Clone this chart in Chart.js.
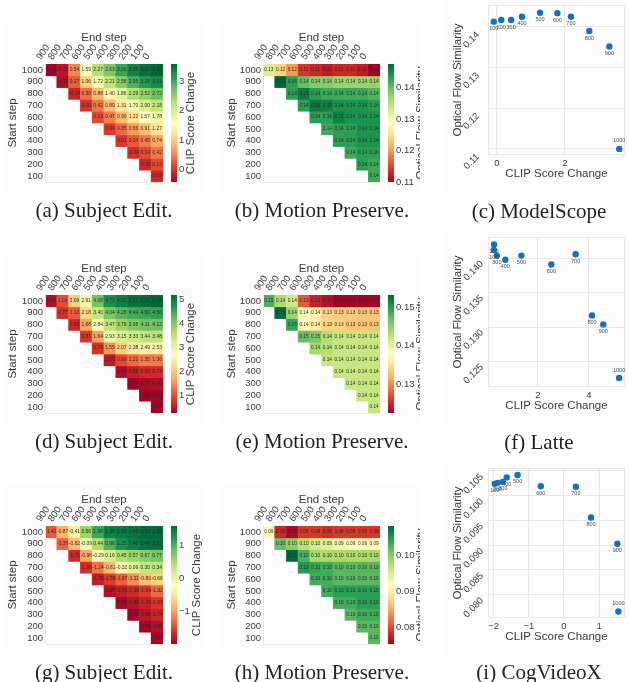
<!DOCTYPE html>
<html lang="en">
<head>
  <meta charset="UTF-8">
  <title>Subject Edit and Motion Preserve heatmaps</title>
  <script src="https://cdn.jsdelivr.net/npm/chart.js"></script>
  <style>
    html, body { margin: 0; background: #fff; }
    body { position: relative; width: 629px; height: 682px; overflow: hidden; }
    canvas { position: absolute; background: #fdfdfe; filter: blur(0.4px); }
    .cap {
      position: absolute;
      font-family: "Liberation Serif", serif;
      font-size: 21px;
      color: #222;
      white-space: nowrap;
      transform: translate(-50%, -50%);
      filter: blur(0.3px);
    }
  </style>
</head>
<body>
  <div class="cap" style="left:104px;top:210px">(a) Subject Edit.</div>
  <div class="cap" style="left:322px;top:210px">(b) Motion Preserve.</div>
  <div class="cap" style="left:539px;top:211px">(c) ModelScope</div>
  <div class="cap" style="left:104px;top:441px">(d) Subject Edit.</div>
  <div class="cap" style="left:322px;top:441px">(e) Motion Preserve.</div>
  <div class="cap" style="left:539px;top:442px">(f) Latte</div>
  <div class="cap" style="left:104px;top:672px">(g) Subject Edit.</div>
  <div class="cap" style="left:322px;top:672px">(h) Motion Preserve.</div>
  <div class="cap" style="left:539px;top:672px">(i) CogVideoX</div>

  <script>
    const endSteps = [900, 800, 700, 600, 500, 400, 300, 200, 100, 0];
    const startSteps = [1000, 900, 800, 700, 600, 500, 400, 300, 200, 100];
    const scatterSteps = [100, 200, 300, 400, 500, 600, 700, 800, 900, 1000];

    // rows follow startSteps, each row starts at the diagonal
    const clipA = [
      [-0.43, -0.25, 0.54, 1.59, 2.27, 2.63, 3.06, 3.36, 3.52, 3.60],
      [-0.33, 0.27, 1.06, 1.72, 2.21, 2.58, 2.95, 3.18, 3.31],
      [-0.14, 0.38, 0.88, 1.40, 1.86, 2.29, 2.52, 2.72],
      [-0.01, 0.42, 0.89, 1.31, 1.70, 2.00, 2.18],
      [0.13, 0.47, 0.90, 1.22, 1.57, 1.78],
      [0.04, 0.35, 0.66, 0.91, 1.27],
      [0.01, 0.24, 0.45, 0.74],
      [-0.04, 0.14, 0.42],
      [-0.09, 0.13],
      [-0.09]
    ];
    const flowB = [
      [0.132, 0.124, 0.120, 0.114, 0.113, 0.112, 0.113, 0.113, 0.112, 0.110],
      [0.148, 0.143, 0.140, 0.138, 0.138, 0.137, 0.137, 0.137, 0.137],
      [0.143, 0.146, 0.143, 0.142, 0.142, 0.142, 0.142, 0.141],
      [0.143, 0.146, 0.1455, 0.144, 0.144, 0.144, 0.143],
      [0.143, 0.143, 0.1455, 0.144, 0.144, 0.144],
      [0.142, 0.143, 0.143, 0.144, 0.144],
      [0.143, 0.143, 0.144, 0.144],
      [0.142, 0.143, 0.143],
      [0.143, 0.142],
      [0.142]
    ];
    const clipD = [
      [0.42, 1.01, 2.09, 2.91, 4.08, 4.75, 4.91, 5.07, 5.12, 5.18],
      [0.77, 1.12, 2.18, 3.40, 4.04, 4.28, 4.44, 4.50, 4.56],
      [0.68, 1.68, 2.84, 3.47, 3.79, 3.98, 4.11, 4.12],
      [0.81, 1.64, 2.93, 3.15, 3.33, 3.44, 3.48],
      [0.79, 1.55, 2.07, 2.38, 2.49, 2.53],
      [0.55, 0.99, 1.21, 1.35, 1.36],
      [0.41, 0.58, 0.69, 0.73],
      [0.29, 0.37, 0.40],
      [0.28, 0.29],
      [0.28]
    ];
    const flowE = [
      [0.148, 0.1435, 0.1415, 0.1275, 0.1245, 0.1235, 0.1225, 0.1225, 0.1225, 0.1225],
      [0.153, 0.1445, 0.1385, 0.1365, 0.134, 0.1335, 0.1335, 0.133, 0.133],
      [0.149, 0.137, 0.136, 0.134, 0.134, 0.133, 0.133, 0.133],
      [0.147, 0.146, 0.143, 0.142, 0.142, 0.142, 0.142],
      [0.144, 0.143, 0.142, 0.142, 0.142, 0.142],
      [0.142, 0.142, 0.142, 0.142, 0.142],
      [0.142, 0.142, 0.142, 0.142],
      [0.142, 0.142, 0.142],
      [0.142, 0.142],
      [0.142]
    ];
    const clipG = [
      [-1.42, -0.87, -0.41, 0.56, 1.08, 1.39, 1.45, 1.49, 1.54, 1.55],
      [-1.35, -0.82, -0.09, 0.44, 0.96, 1.25, 1.40, 1.48, 1.52],
      [-1.71, -0.96, -0.29, 0.16, 0.45, 0.57, 0.67, 0.77],
      [-1.66, -1.24, -0.81, -0.32, 0.09, 0.30, 0.34],
      [-1.79, -1.58, -1.37, -1.11, -0.80, -0.66],
      [-1.87, -1.79, -1.69, -1.59, -1.32],
      [-1.95, -1.86, -1.76, -1.63],
      [-1.98, -1.85, -1.74],
      [-1.96, -1.89],
      [-1.97]
    ];
    const flowH = [
      [0.0915, 0.078, 0.076, 0.079, 0.079, 0.0785, 0.079, 0.079, 0.079, 0.079],
      [0.1015, 0.0995, 0.097, 0.0955, 0.0945, 0.093, 0.092, 0.0915, 0.0915],
      [0.108, 0.1025, 0.098, 0.098, 0.098, 0.098, 0.098, 0.098],
      [0.1045, 0.1035, 0.103, 0.102, 0.102, 0.102, 0.102],
      [0.103, 0.103, 0.102, 0.102, 0.102, 0.102],
      [0.103, 0.104, 0.104, 0.104, 0.104],
      [0.103, 0.103, 0.104, 0.104],
      [0.102, 0.103, 0.103],
      [0.102, 0.102],
      [0.102]
    ];

    const scoreC = [-0.09, 0.13, 0.42, 0.74, 1.27, 1.78, 2.18, 2.72, 3.31, 3.60];
    const similarityC = [0.1413, 0.1417, 0.1417, 0.1425, 0.1435, 0.1434, 0.1425, 0.1390, 0.1352, 0.1100];
    const scoreF = [0.28, 0.29, 0.40, 0.73, 1.36, 2.53, 3.48, 4.12, 4.56, 5.18];
    const similarityF = [0.1412, 0.1420, 0.1404, 0.1398, 0.1404, 0.1391, 0.1406, 0.1317, 0.1304, 0.1226];
    const scoreI = [-1.97, -1.89, -1.74, -1.63, -1.32, -0.66, 0.34, 0.77, 1.52, 1.55];
    const similarityI = [0.1024, 0.1026, 0.1028, 0.1037, 0.1042, 0.1019, 0.1018, 0.0956, 0.0903, 0.0766];

    const RDYLGN = ["#a50026", "#d73027", "#f46d43", "#fdae61", "#fee08b", "#ffffbf",
                    "#d9ef8b", "#a6d96a", "#66bd63", "#1a9850", "#006837"];
    const FONT = '"Liberation Sans", Arial, sans-serif';
    const TEXT = "#3a3a3a";
    const GRID = "#e6e7ec";

    function hexRgb(h) {
      return [1, 3, 5].map(i => parseInt(h.substr(i, 2), 16));
    }

    function cellColor(v, min, max) {
      const t = Math.max(0, Math.min(1, (v - min) / (max - min))) * (RDYLGN.length - 1);
      const i = Math.min(Math.floor(t), RDYLGN.length - 2);
      const a = hexRgb(RDYLGN[i]), b = hexRgb(RDYLGN[i + 1]);
      const c = a.map((x, k) => Math.round(x + (b[k] - x) * (t - i)));
      return "rgb(" + c.join(",") + ")";
    }

    function newCanvas(left, top, width, height) {
      const c = document.createElement("canvas");
      c.width = width;
      c.height = height;
      c.style.left = left + "px";
      c.style.top = top + "px";
      c.style.width = width + "px";
      c.style.height = height + "px";
      document.body.appendChild(c);
      return c;
    }

    // fixed axis thickness so the plot lands where the reference has it
    function fixSize(size) {
      return scale => {
        if (scale.isHorizontal()) scale.height = size;
        else scale.width = size;
        scale.paddingLeft = scale.paddingRight = scale.paddingTop = scale.paddingBottom = 0;
      };
    }

    const heatPlugin = {
      id: "heatExtras",
      afterDatasetsDraw(chart) {
        const ctx = chart.ctx, area = chart.chartArea, o = chart.options.plugins.heatExtras;
        ctx.save();
        ctx.font = o.cellFont + "px " + FONT;
        ctx.fillStyle = "#2a2a2a";
        ctx.textAlign = "center";
        ctx.textBaseline = "middle";
        chart.data.datasets.forEach((ds, d) => {
          chart.getDatasetMeta(d).data.forEach((el, j) => {
            if (ds.values[j] === null) return;
            const p = el.getCenterPoint();
            ctx.fillText(ds.values[j].toFixed(2), p.x, p.y);
          });
        });
        ctx.strokeStyle = "#ebe6e6";
        ctx.lineWidth = 1;
        ctx.beginPath();
        ctx.moveTo(area.left + 0.5, area.top);
        ctx.lineTo(area.left + 0.5, area.bottom + 0.5);
        ctx.lineTo(area.right, area.bottom + 0.5);
        ctx.stroke();

        // colorbar
        const cb = chart.scales.cb;
        const grad = ctx.createLinearGradient(0, area.bottom, 0, area.top);
        RDYLGN.forEach((c, i) => grad.addColorStop(i / (RDYLGN.length - 1), c));
        ctx.fillStyle = grad;
        ctx.fillRect(cb.left + 8, area.top, 6, area.bottom - area.top);

        ctx.translate(cb.left + o.titleOffset, (area.top + area.bottom) / 2);
        ctx.rotate(-Math.PI / 2);
        ctx.font = "11.5px " + FONT;
        ctx.fillStyle = TEXT;
        ctx.fillText(o.title, 0, 0);
        ctx.restore();
      }
    };

    function heatChart(box, rows, range, cbTicks, cbDigits, title, cellFont, titleOffset) {
      const datasets = rows.map((row, i) => {
        const pad = new Array(endSteps.length - row.length).fill(null);
        const values = pad.concat(row);
        return {
          data: values.map(v => v === null ? null : [startSteps[i] - 50, startSteps[i] + 50]),
          values: values,
          backgroundColor: values.map(v => v === null ? "transparent" : cellColor(v, range[0], range[1])),
          borderWidth: 0,
          grouped: false,
          barPercentage: 1,
          categoryPercentage: 1
        };
      });
      new Chart(newCanvas(box.left, box.top, box.width, box.height), {
        type: "bar",
        data: { labels: endSteps.map(String), datasets: datasets },
        plugins: [heatPlugin],
        options: {
          responsive: false,
          animation: false,
          layout: { padding: { top: 0, left: 0, right: 0, bottom: box.bottomPad } },
          plugins: {
            legend: { display: false },
            tooltip: { enabled: false },
            heatExtras: { title: title, cellFont: cellFont, titleOffset: titleOffset }
          },
          scales: {
            x: {
              position: "top",
              afterFit: fixSize(box.topAxis),
              grid: { display: false, drawTicks: false },
              border: { display: false },
              ticks: { autoSkip: false, minRotation: 55, maxRotation: 55, padding: 2, labelOffset: -3, color: TEXT, font: { family: FONT, size: 9.5 } },
              title: { display: true, text: "End step", color: TEXT, font: { family: FONT, size: 11.5 }, padding: { top: 8, bottom: 0 } }
            },
            y: {
              min: 50,
              max: 1050,
              afterFit: fixSize(box.leftAxis),
              afterBuildTicks: s => { s.ticks = startSteps.map(v => ({ value: v })); },
              grid: { display: false, drawTicks: false },
              border: { display: false },
              ticks: { autoSkip: false, padding: 2, color: TEXT, font: { family: FONT, size: 9.5 }, callback: v => String(v) },
              title: { display: true, text: "Start step", color: TEXT, font: { family: FONT, size: 11.5 }, padding: { top: box.yTitlePad, bottom: 0 } }
            },
            cb: {
              axis: "y",
              position: "right",
              min: range[0],
              max: range[1],
              afterFit: fixSize(box.rightAxis),
              afterBuildTicks: s => { s.ticks = cbTicks.map(v => ({ value: v })); },
              grid: { display: false, drawTicks: false },
              border: { display: false },
              ticks: {
                autoSkip: false,
                padding: 16,
                color: TEXT,
                font: { family: FONT, size: 9.5 },
                callback: v => cbDigits ? v.toFixed(cbDigits) : String(v).replace("-", "\u2212")
              }
            }
          }
        }
      });
    }

    const scatterPlugin = {
      id: "pointLabels",
      afterDatasetsDraw(chart) {
        const ctx = chart.ctx, area = chart.chartArea;
        ctx.save();
        ctx.strokeStyle = GRID;
        ctx.lineWidth = 1;
        ctx.strokeRect(area.left + 0.5, area.top + 0.5, area.right - area.left - 1, area.bottom - area.top - 1);
        ctx.font = "5.5px " + FONT;
        ctx.fillStyle = "#4a4a4a";
        ctx.textAlign = "center";
        ctx.textBaseline = "middle";
        chart.getDatasetMeta(0).data.forEach((el, i) => {
          const s = scatterSteps[i];
          ctx.fillText(String(s), el.x, el.y + (s === 1000 ? -8 : 7));
        });
        ctx.restore();
      }
    };

    function scatterChart(box, xs, ys, xRange, yRange, xTicks, yTicks, yDigits) {
      new Chart(newCanvas(box.left, box.top, box.width, box.height), {
        type: "scatter",
        data: {
          datasets: [{
            data: xs.map((x, i) => ({ x: x, y: ys[i] })),
            backgroundColor: "#1273b8",
            borderWidth: 0,
            pointRadius: 3.2,
            clip: false
          }]
        },
        plugins: [scatterPlugin],
        options: {
          responsive: false,
          animation: false,
          layout: { padding: { top: box.topPad, right: box.rightPad, left: 0, bottom: 0 } },
          plugins: { legend: { display: false }, tooltip: { enabled: false } },
          scales: {
            x: {
              min: xRange[0],
              max: xRange[1],
              afterFit: fixSize(box.bottomAxis),
              afterBuildTicks: s => { s.ticks = xTicks.map(v => ({ value: v })); },
              grid: { color: GRID, drawTicks: false },
              border: { display: false },
              ticks: {
                autoSkip: false,
                padding: 3,
                color: TEXT,
                font: { family: FONT, size: 9.5 },
                callback: v => String(v).replace("-", "\u2212")
              },
              title: { display: true, text: "CLIP Score Change", color: TEXT, font: { family: FONT, size: 11.5 }, padding: { top: 0, bottom: box.xTitlePad } }
            },
            y: {
              min: yRange[0],
              max: yRange[1],
              afterFit: fixSize(box.leftAxis),
              afterBuildTicks: s => { s.ticks = yTicks.map(v => ({ value: v })); },
              grid: { color: GRID, drawTicks: false },
              border: { display: false },
              ticks: {
                autoSkip: false,
                minRotation: 45,
                maxRotation: 45,
                padding: box.yTickPad,
                labelOffset: box.yTickShift,
                color: TEXT,
                font: { family: FONT, size: 9.5 },
                callback: v => v.toFixed(yDigits)
              },
              title: { display: true, text: "Optical Flow Similarity", color: TEXT, font: { family: FONT, size: 11.5 }, padding: { top: 9, bottom: 0 } }
            }
          }
        }
      });
    }

    function leftBox(top) {
      return { left: 5, top: top - 41, width: 198, height: 169, topAxis: 41, leftAxis: 40, rightAxis: 40, bottomPad: 10, yTitlePad: 1 };
    }
    function midBox(top) {
      return { left: 222, top: top - 41, width: 198, height: 169, topAxis: 41, leftAxis: 41, rightAxis: 40, bottomPad: 10, yTitlePad: 3 };
    }
    function rightBox(top, yTickPad, yTickShift) {
      return { left: 442, top: top, width: 187, height: 192, topPad: 5, rightPad: 2, bottomAxis: 37, leftAxis: 46, xTitlePad: 11, yTickPad: yTickPad, yTickShift: yTickShift };
    }

    heatChart(leftBox(64), clipA, [-0.43, 3.60], [0, 1, 2, 3], 0, "CLIP Score Change", 4.9, 28);
    heatChart(midBox(64), flowB, [0.11, 0.1475], [0.11, 0.12, 0.13, 0.14], 2, "Optical Flow Similarity", 4.7, 41);
    scatterChart(rightBox(0, 10, 6.5), scoreC, similarityC, [-0.26, 3.77], [0.1085, 0.1454], [0, 2], [0.11, 0.12, 0.13, 0.14], 2);

    heatChart(leftBox(295), clipD, [0.28, 5.18], [1, 2, 3, 4, 5], 0, "CLIP Score Change", 4.9, 28);
    heatChart(midBox(295), flowE, [0.1224, 0.1532], [0.13, 0.14, 0.15], 2, "Optical Flow Similarity", 4.7, 41);
    scatterChart(rightBox(232, 6, 4), scoreF, similarityF, [0.053, 5.41], [0.1213, 0.1431], [2, 4], [0.125, 0.13, 0.135, 0.14], 3);

    heatChart(leftBox(526), clipG, [-2.0, 1.58], [-1, 0, 1], 0, "CLIP Score Change", 4.9, 34);
    heatChart(midBox(526), flowH, [0.0754, 0.108], [0.08, 0.09, 0.10], 2, "Optical Flow Similarity", 4.7, 41);
    scatterChart(rightBox(463, 6, 4.5), scoreI, similarityI, [-2.163, 1.738], [0.0753, 0.1056], [-2, -1, 0, 1], [0.08, 0.085, 0.09, 0.095, 0.10, 0.105], 3);
  </script>
</body>
</html>
